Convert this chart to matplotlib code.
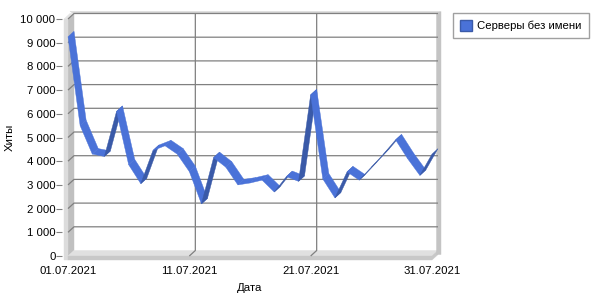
import numpy as np
import pandas as pd
import matplotlib
matplotlib.use("Agg")
import matplotlib.pyplot as plt
import matplotlib.dates as mdates
from matplotlib.patches import Polygon, Patch

# daily hits, July 2021
dates = pd.date_range("2021-07-01", "2021-07-31", freq="D")
hits = [9250, 5500, 4300, 4200, 6100, 3850, 3050, 4450, 4650, 4300,
        3560, 2200, 4150, 3750, 3000, 3080, 3200, 2700, 3350, 3150,
        6800, 3250, 2450, 3550, 3200, 3750, 4300, 4900, 4100, 3400,
        4300]
tick_dates = ["2021-07-01", "2021-07-11", "2021-07-21", "2021-07-31"]
grid_dates = ["2021-07-11", "2021-07-21"]
y_ticks = list(range(0, 10001, 1000))
series_name = "Серверы без имени"

FACE = "#4a72d8"
SHADE = "#3a5aa8"
GRID = "#808080"
DEPTH = (6.0, 5.5)   # pixel offset of the back plane

plt.rcParams["font.family"] = ["Liberation Sans", "DejaVu Sans"]
plt.rcParams["font.size"] = 8.2

fig = plt.figure(figsize=(6, 3), dpi=100)
ax = fig.add_axes([68 / 600, 44 / 300, 364 / 600, 237 / 300])
x = mdates.date2num(dates)
x0, x1 = x[0], x[-1]
ymax = y_ticks[-1]
ax.set_xlim(x0, x1)
ax.set_ylim(0, ymax)
ax.patch.set_visible(False)
for s in ax.spines.values():
    s.set_visible(False)

# depth offset and pixel size in data units
px_x = ax.bbox.width / (x1 - x0)
px_y = ax.bbox.height / ymax
dd, dv = DEPTH[0] / px_x, DEPTH[1] / px_y
ex, ey = 1 / px_x, 1 / px_y


def poly(pts, color, z=1):
    ax.add_patch(Polygon(pts, closed=True, facecolor=color, edgecolor=color,
                         lw=0.3, clip_on=False, zorder=z))


# walls and floor
t = 4  # slab thickness, px
poly([(x0, 0), (x0, ymax), (x0 + dd, ymax + dv), (x0 + dd, dv)], "#c0c0c0")
poly([(x0 - t * ex, -t * ey), (x0, -t * ey), (x0, ymax), (x0 - t * ex, ymax)], "#dcdcdc")
poly([(x0 - t * ex, ymax), (x0, ymax), (x0 + dd, ymax + dv),
      (x0 + dd - t * ex, ymax + dv)], "#e4e4e4")
poly([(x0, 0), (x1, 0), (x1 + dd, dv), (x0 + dd, dv)], "#e0e0e0")
poly([(x0, -t * ey), (x1, -t * ey), (x1 + dd, dv - t * ey), (x1 + dd, dv), (x1, 0), (x0, 0)], "#c8c8c8")
# back wall border (top and right edges)
poly([(x0 + dd, ymax + dv), (x1 + dd, ymax + dv), (x1 + dd + 2 * ex, ymax + dv + 2 * ey),
      (x0 + dd - t * ex, ymax + dv + 2 * ey)], "#d4d4d4")
poly([(x1 + dd - 1.5 * ex, dv - t * ey), (x1 + dd - 1.5 * ex, ymax + dv),
      (x1 + dd + 3 * ex, ymax + dv + 2 * ey), (x1 + dd + 3 * ex, dv - t * ey)], "#c4c4c4")

# gridlines on back wall, with their slanted part on left wall / floor
for v in y_ticks[1:]:
    ax.plot([x0, x0 + dd, x1 + dd], [v, v + dv, v + dv], color=GRID, lw=0.9,
            clip_on=False, zorder=2, solid_capstyle="butt")
for d in mdates.date2num(pd.to_datetime(grid_dates)):
    ax.plot([d, d + dd, d + dd], [0, dv, ymax + dv], color=GRID, lw=0.9,
            clip_on=False, zorder=2, solid_capstyle="butt")

# ribbon line
for i in range(len(x) - 1):
    sx = (x[i + 1] - x[i]) * px_x
    sy = (hits[i + 1] - hits[i]) * px_y
    top = sx * DEPTH[1] - sy * DEPTH[0] > 0
    quad = [(x[i], hits[i]), (x[i + 1], hits[i + 1]),
            (x[i + 1] + dd, hits[i + 1] + dv), (x[i] + dd, hits[i] + dv)]
    poly(quad, FACE if top else SHADE, z=3)

# ticks
ax.spines["left"].set_position(("outward", 4))
ax.spines["bottom"].set_position(("outward", 4))
ax.set_yticks(y_ticks)
ax.set_yticklabels([f"{v:,}".replace(",", " ") for v in y_ticks])
ax.tick_params(axis="y", length=4, width=0.8, color=GRID, pad=1)
ax.set_xticks(mdates.date2num(pd.to_datetime(tick_dates)))
ax.set_xticklabels([pd.Timestamp(d).strftime("%d.%m.%Y") for d in tick_dates])
ax.tick_params(axis="x", length=0, pad=3)

fig.text(10 / 600, 1 - 137 / 300, "Хиты", rotation=90, ha="center", va="center")
fig.text(250 / 600, 1 - 288 / 300, "Дата", ha="center", va="center")

fig.legend(handles=[Patch(facecolor=FACE, edgecolor=SHADE)], labels=[series_name],
           loc="upper left", bbox_to_anchor=(453 / 600, 1 - 13 / 300),
           fancybox=False, edgecolor="#a0a0a0", framealpha=1,
           borderpad=0.6, handlelength=1.1, handleheight=1.1,
           handletextpad=0.45, borderaxespad=0)

fig.savefig("out.png", dpi=100)
